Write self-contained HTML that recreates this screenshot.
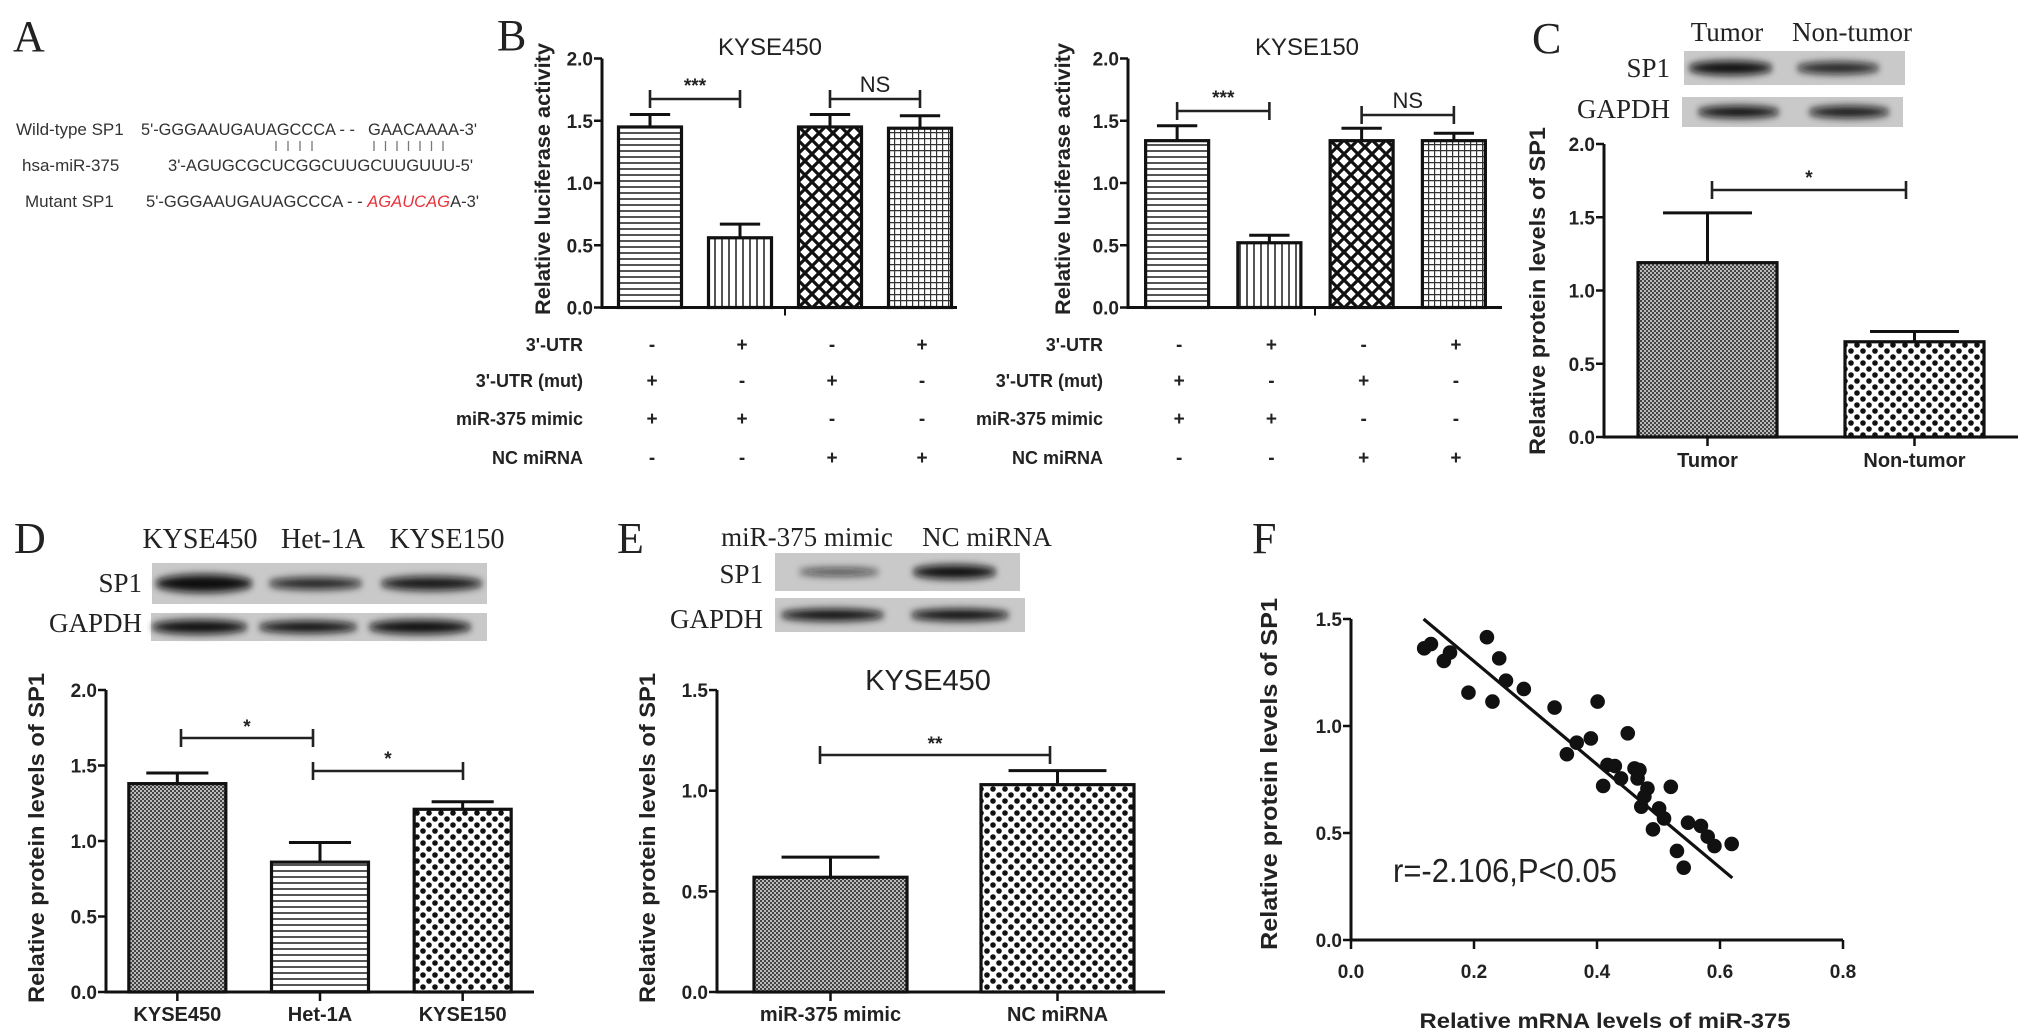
<!DOCTYPE html>
<html><head><meta charset="utf-8"><title>SP1 / miR-375 figure</title>
<style>
html,body{margin:0;padding:0;background:#fff;}
svg{display:block;}
.tk{font-family:"Liberation Sans",Arial,sans-serif;font-weight:bold;font-size:19px;fill:#222;}
.yt{font-family:"Liberation Sans",Arial,sans-serif;font-weight:bold;font-size:21px;fill:#222;}
.sv{font-family:"Liberation Serif","Times New Roman",serif;fill:#222;}
.sq{font-family:"Liberation Sans",Arial,sans-serif;font-size:17px;fill:#333;}
</style></head>
<body>
<svg id="fig" xmlns="http://www.w3.org/2000/svg" width="2031" height="1035" viewBox="0 0 2031 1035">
<defs>
  <pattern id="p-h" width="6" height="6" patternUnits="userSpaceOnUse"><rect width="6" height="6" fill="#fff"/><rect y="0" width="6" height="2" fill="#555"/></pattern>
  <pattern id="p-v" width="7" height="7" patternUnits="userSpaceOnUse"><rect width="7" height="7" fill="#fff"/><rect x="0" width="2" height="7" fill="#555"/></pattern>
  <pattern id="p-x" width="14" height="14" patternUnits="userSpaceOnUse"><rect width="14" height="14" fill="#fff"/><path d="M0 0L14 14M14 0L0 14M-7 7L0 14M7 -7L21 7M0 -0L-7 7M14 14L21 7" stroke="#111" stroke-width="3.2"/></pattern>
  <pattern id="p-g" width="6" height="6" patternUnits="userSpaceOnUse"><rect width="6" height="6" fill="#fff"/><path d="M0 0.5H6M0.5 0V6" stroke="#333" stroke-width="1.4"/></pattern>
  <pattern id="p-f" width="4" height="4" patternUnits="userSpaceOnUse"><rect width="4" height="4" fill="#bbb"/><rect width="2" height="2" fill="#444"/><rect x="2" y="2" width="2" height="2" fill="#444"/></pattern>
  <pattern id="p-d" width="12" height="12" patternUnits="userSpaceOnUse"><rect width="12" height="12" fill="#fff"/><circle cx="3" cy="3" r="2.8" fill="#111"/><circle cx="9" cy="9" r="2.8" fill="#111"/></pattern>
  <filter id="blur" x="-20%" y="-100%" width="140%" height="300%"><feGaussianBlur stdDeviation="3 4"/></filter>
</defs>
<g id="root"></g>
</svg>
<script>
// ---------- Panel B ----------
const bCats = ["g1","g2","g3","g4"];
const b450Values = [1.45, 0.56, 1.45, 1.44];
const b450Errors = [0.10, 0.11, 0.10, 0.10];
const b150Values = [1.34, 0.52, 1.34, 1.34];
const b150Errors = [0.12, 0.06, 0.10, 0.06];
const bTicks = [0, 0.5, 1.0, 1.5, 2.0];
const bTickLabels = ["0.0","0.5","1.0","1.5","2.0"];
const bRowLabels = ["3'-UTR","3'-UTR (mut)","miR-375 mimic","NC miRNA"];
const bRowSigns = [["-","+","-","+"],["+","-","+","-"],["+","+","-","-"],["-","-","+","+"]];
// ---------- Panel C ----------
const cCats = ["Tumor","Non-tumor"];
const cValues = [1.19, 0.65];
const cErrors = [0.34, 0.07];
const cTicks = [0, 0.5, 1.0, 1.5, 2.0];
const cTickLabels = ["0.0","0.5","1.0","1.5","2.0"];
// ---------- Panel D ----------
const dCats = ["KYSE450","Het-1A","KYSE150"];
const dValues = [1.38, 0.86, 1.21];
const dErrors = [0.07, 0.13, 0.05];
const dTicks = [0, 0.5, 1.0, 1.5, 2.0];
const dTickLabels = ["0.0","0.5","1.0","1.5","2.0"];
// ---------- Panel E ----------
const eCats = ["miR-375 mimic","NC miRNA"];
const eValues = [0.57, 1.03];
const eErrors = [0.10, 0.07];
const eTicks = [0, 0.5, 1.0, 1.5];
const eTickLabels = ["0.0","0.5","1.0","1.5"];
// ---------- Panel F ----------
const fX = [0.119,0.130,0.151,0.161,0.191,0.221,0.230,0.241,0.252,0.281,0.331,0.351,0.367,0.390,0.401,0.410,0.417,0.429,0.439,0.450,0.461,0.469,0.466,0.482,0.477,0.472,0.501,0.509,0.520,0.491,0.548,0.569,0.580,0.591,0.619,0.530,0.541];
const fY = [1.363,1.383,1.304,1.343,1.156,1.415,1.114,1.316,1.212,1.173,1.086,0.868,0.922,0.942,1.114,0.720,0.818,0.813,0.755,0.966,0.802,0.794,0.755,0.708,0.670,0.623,0.615,0.568,0.716,0.517,0.548,0.533,0.483,0.439,0.449,0.416,0.338];
const fFitX = [0.118, 0.620];
const fFitY = [1.50, 0.29];
const fXTicks = [0, 0.2, 0.4, 0.6, 0.8];
const fXTickLabels = ["0.0","0.2","0.4","0.6","0.8"];
const fYTicks = [0, 0.5, 1.0, 1.5];
const fYTickLabels = ["0.0","0.5","1.0","1.5"];

const NS = "http://www.w3.org/2000/svg";
const root = document.getElementById('root');
function mk(tag, attrs, parent, text){
  const e = document.createElementNS(NS, tag);
  for (const k in attrs) e.setAttribute(k, attrs[k]);
  if (text !== undefined) e.textContent = text;
  (parent || root).appendChild(e);
  return e;
}
function linY(y0, ppu){ return v => y0 - v*ppu; }
function band(n, r0, r1){ const step=(r1-r0)/n; return i => r0 + step*(i+0.5); }

function yAxis(g, ax, yTop, yZero, sy, ticks, labels){
  const l = mk('line',{x1:ax,y1:yTop,x2:ax,y2:yZero+1.5,stroke:'#111','stroke-width':3},g);
   
  ticks.forEach((t,i)=>{
    const y = sy(t);
    const tk = mk('line',{x1:ax-8,y1:y,x2:ax,y2:y,stroke:'#111','stroke-width':2.5},g);
     
    const tx = mk('text',{x:ax-9,y:y+7,'text-anchor':'end',class:'tk'},g,labels[i]);
     
  });
}
function bracket(g, x1, x2, y, label, ly){
  const p = mk('path',{d:`M${x1} ${y-9}V${y+9}M${x1} ${y}H${x2}M${x2} ${y-9}V${y+9}`,stroke:'#222','stroke-width':2.6,fill:'none'},g);
   
  const st = label==='NS' ? 'font-weight:normal;font-size:22px' : 'font-weight:bold;font-size:19px';
  const t = mk('text',{x:(x1+x2)/2,y:ly,'text-anchor':'middle',class:'tk',style:st},g,label);
   
}
function bars(g, n, cx, width, sy, yZero, values, errors, fills){
  for (let i=0;i<n;i++){
    const x = cx(i), top = sy(values[i]), et = sy(values[i]+errors[i]);
    const er = mk('path',{d:`M${x} ${top}V${et}M${x-width*0.32} ${et}H${x+width*0.32}`,stroke:'#111','stroke-width':3,fill:'none'},g);
     
    const r = mk('rect',{x:x-width/2,y:top,width:width,height:yZero-top,fill:`url(#${fills[i]})`,stroke:'#111','stroke-width':3.2},g);
     
  }
}
function vtext(g, x, y, txt, len, size){
  const t = mk('text',{x:0,y:0,transform:`translate(${x},${y}) rotate(-90)`,'text-anchor':'middle',class:'yt',style:`font-size:${size||21}px`,textLength:len,lengthAdjust:'spacingAndGlyphs'},g,txt);
   
  return t;
}
function blot(g, x0, y0, x1, y1, bandsArr, op){
  const r = mk('rect',{x:x0,y:y0,width:x1-x0,height:y1-y0,fill:'#c9c9c9'},g);
   
  bandsArr.forEach((b,i)=>{
    const e = mk('ellipse',{cx:(b[0]+b[1])/2,cy:(y0+y1)/2,rx:(b[1]-b[0])/2,ry:b[2],fill:'#111','fill-opacity':op[i],filter:'url(#blur)'},g);
     
  });
}
function serif(g, x, y, txt, size, anchor, name){
  const t = mk('text',{x:x,y:y,'text-anchor':anchor||'start',class:'sv',style:`font-size:${size}px`},g,txt);
   
  return t;
}

// ================= Panel A =================
const gA = mk('g',{});  
serif(gA, 13, 51, 'A', 44, 'start', 'panel-letter-a');
const sqRows = [[16,135,'Wild-type SP1'],[22,171,'hsa-miR-375'],[25,207,'Mutant SP1']];
sqRows.forEach(r=>{ const t=mk('text',{x:r[0],y:r[1],class:'sq'},gA,r[2]);   });
let t1 = mk('text',{x:141,y:135,class:'sq',textLength:214,lengthAdjust:'spacingAndGlyphs'},gA,"5'-GGGAAUGAUAGCCCA - -");
 
let t2 = mk('text',{x:368,y:135,class:'sq',textLength:109,lengthAdjust:'spacingAndGlyphs'},gA,"GAACAAAA-3'");
 
let t3 = mk('text',{x:168,y:171,class:'sq',textLength:305,lengthAdjust:'spacingAndGlyphs'},gA,"3'-AGUGCGCUCGGCUUGCUUGUUU-5'");
 
let t4 = mk('text',{x:146,y:207,class:'sq',textLength:333,lengthAdjust:'spacingAndGlyphs'},gA);
 
mk('tspan',{},t4,"5'-GGGAAUGAUAGCCCA - - ");
mk('tspan',{fill:'#e8323c','font-style':'italic'},t4,"AGAUCAG");
mk('tspan',{},t4,"A-3'");
for(let i=0;i<4;i++){ const l=mk('line',{x1:276+i*12,y1:141,x2:276+i*12,y2:151,stroke:'#777','stroke-width':1.3},gA);   }
for(let i=0;i<7;i++){ const l=mk('line',{x1:374+i*11.5,y1:141,x2:374+i*11.5,y2:151,stroke:'#777','stroke-width':1.3},gA);   }

// ================= Panel B =================
function panelB(name, ax, axEnd, rangeEnd, vals, errs, title, titleX, yTitleX, labelRight, midTick, br1y, br1ly, br2y, br2ly){
  const g = mk('g',{});  
  const yZero = 307.5, sy = linY(yZero, 124.5);
  const cx = band(4, ax+3, rangeEnd);
  const tt = mk('text',{x:titleX,y:55,'text-anchor':'middle',class:'yt',style:'font-weight:normal;font-size:24px'},g,title);
   
  vtext(g, yTitleX, 179, 'Relative luciferase activity', 272, 21);
  bars(g, 4, cx, 63, sy, yZero, vals, errs, ['p-h','p-v','p-x','p-g']);
  yAxis(g, ax, sy(2.0), yZero, sy, bTicks, bTickLabels);
  const xl = mk('line',{x1:ax,y1:yZero,x2:axEnd,y2:yZero,stroke:'#111','stroke-width':3},g);
   
  const mt = mk('line',{x1:midTick,y1:yZero,x2:midTick,y2:yZero+8,stroke:'#111','stroke-width':2},g);
   
  bracket(g, cx(0), cx(1), br1y, '***', br1ly);
  bracket(g, cx(2), cx(3), br2y, 'NS', br2ly);
  const rowY = [351, 387, 425, 464];
  bRowLabels.forEach((lab,r)=>{
    const t = mk('text',{x:labelRight,y:rowY[r],'text-anchor':'end',class:'tk',style:'font-size:18px'},g,lab);
     
    bRowSigns[r].forEach((s,i)=>{
      const st = mk('text',{x:cx(i)+2,y:rowY[r],'text-anchor':'middle',class:'tk'},g,s);
       
    });
  });
}
serif(root, 497, 50, 'B', 44, 'start', 'panel-letter-b');
panelB('panel-b-kyse450', 602, 957, 965, b450Values, b450Errors, 'KYSE450', 770, 550, 583, 785, 99, 92, 99, 92);
panelB('panel-b-kyse150', 1128, 1502, 1500, b150Values, b150Errors, 'KYSE150', 1307, 1070, 1103, 1315, 111, 104, 115, 108);

// ================= Panel C =================
(function(){
  const g = mk('g',{});  
  serif(g, 1532, 53, 'C', 44, 'start', 'panel-letter-c');
  serif(g, 1727, 41, 'Tumor', 27, 'middle', 'blot-lane-label');
  serif(g, 1852, 41, 'Non-tumor', 27, 'middle', 'blot-lane-label');
  serif(g, 1670, 77, 'SP1', 27, 'end', 'blot-row-label');
  serif(g, 1670, 118, 'GAPDH', 27, 'end', 'blot-row-label');
  blot(g, 1684, 51, 1905, 85, [[1688,1773,7],[1796,1880,6]], [1,0.9]);
  blot(g, 1682, 97, 1903, 127, [[1697,1780,6],[1808,1890,6]], [1,0.95]);
  const ax=1604, yZero=437, sy=linY(yZero,146.5), cx=band(2, ax, 2018);
  vtext(g, 1545, 291, 'Relative protein levels of SP1', 328, 22);
  bars(g, 2, cx, 139, sy, yZero, cValues, cErrors, ['p-f','p-d']);
  yAxis(g, ax, sy(2.0), yZero, sy, cTicks, cTickLabels);
  const xl=mk('line',{x1:ax,y1:yZero,x2:2018,y2:yZero,stroke:'#111','stroke-width':3},g);
   
  cCats.forEach((c,i)=>{
    const tk=mk('line',{x1:cx(i),y1:yZero,x2:cx(i),y2:yZero+9,stroke:'#111','stroke-width':2.5},g);
     
    const t=mk('text',{x:cx(i),y:467,'text-anchor':'middle',class:'tk',style:'font-size:20px'},g,c);
     
  });
  bracket(g, 1712, 1906, 190, '*', 184);
})();

// ================= Panel D =================
(function(){
  const g = mk('g',{});  
  serif(g, 14, 553, 'D', 44, 'start', 'panel-letter-d');
  serif(g, 200, 548, 'KYSE450', 28, 'middle', 'blot-lane-label');
  serif(g, 323, 548, 'Het-1A', 28, 'middle', 'blot-lane-label');
  serif(g, 447, 548, 'KYSE150', 28, 'middle', 'blot-lane-label');
  serif(g, 142, 592, 'SP1', 27, 'end', 'blot-row-label');
  serif(g, 142, 632, 'GAPDH', 27, 'end', 'blot-row-label');
  blot(g, 152, 563, 487, 604, [[155,253,9],[268,363,6],[380,483,7]], [1,0.9,0.95]);
  blot(g, 151, 613, 487, 641, [[151,248,7],[258,358,6],[368,472,7]], [1,1,1]);
  const ax=106, yZero=992, sy=linY(yZero,151), cx=band(3, ax, 534);
  vtext(g, 44, 838, 'Relative protein levels of SP1', 330, 22);
  bars(g, 3, cx, 97, sy, yZero, dValues, dErrors, ['p-f','p-h','p-d']);
  yAxis(g, ax, sy(2.0), yZero, sy, dTicks, dTickLabels);
  const xl=mk('line',{x1:ax,y1:yZero,x2:534,y2:yZero,stroke:'#111','stroke-width':3},g);
   
  dCats.forEach((c,i)=>{
    const tk=mk('line',{x1:cx(i),y1:yZero,x2:cx(i),y2:yZero+9,stroke:'#111','stroke-width':2.5},g);
     
    const t=mk('text',{x:cx(i),y:1021,'text-anchor':'middle',class:'tk',style:'font-size:20px'},g,c);
     
  });
  bracket(g, 181, 313, 738, '*', 733);
  bracket(g, 313, 463, 771, '*', 765);
})();

// ================= Panel E =================
(function(){
  const g = mk('g',{});  
  serif(g, 617, 553, 'E', 44, 'start', 'panel-letter-e');
  serif(g, 807, 546, 'miR-375 mimic', 27, 'middle', 'blot-lane-label');
  serif(g, 987, 546, 'NC miRNA', 27, 'middle', 'blot-lane-label');
  serif(g, 763, 583, 'SP1', 27, 'end', 'blot-row-label');
  serif(g, 763, 628, 'GAPDH', 27, 'end', 'blot-row-label');
  blot(g, 775, 553, 1020, 591, [[798,880,4],[912,997,7]], [0.7,1]);
  blot(g, 775, 598, 1025, 632, [[780,885,6],[910,1010,6]], [1,1]);
  const tt=mk('text',{x:928,y:690,'text-anchor':'middle',class:'yt',style:'font-weight:normal;font-size:29px'},g,'KYSE450');
   
  const ax=717, yZero=992, sy=linY(yZero,201.3), cx=band(2, ax, 1171);
  vtext(g, 655, 838, 'Relative protein levels of SP1', 330, 22);
  bars(g, 2, cx, 153, sy, yZero, eValues, eErrors, ['p-f','p-d']);
  yAxis(g, ax, sy(1.5), yZero, sy, eTicks, eTickLabels);
  const xl=mk('line',{x1:ax,y1:yZero,x2:1165,y2:yZero,stroke:'#111','stroke-width':3},g);
   
  eCats.forEach((c,i)=>{
    const tk=mk('line',{x1:cx(i),y1:yZero,x2:cx(i),y2:yZero+9,stroke:'#111','stroke-width':2.5},g);
     
    const t=mk('text',{x:cx(i),y:1021,'text-anchor':'middle',class:'tk',style:'font-size:20px'},g,c);
     
  });
  bracket(g, 820, 1050, 755, '**', 750);
})();

// ================= Panel F =================
(function(){
  const g = mk('g',{});  
  serif(g, 1252, 553, 'F', 44, 'start', 'panel-letter-f');
  const x0=1351, yZero=940, sx=v=>x0+v*615, sy=linY(yZero,214);
  vtext(g, 1277, 774, 'Relative protein levels of SP1', 352, 23);
  yAxis(g, x0, sy(1.5), yZero, sy, fYTicks, fYTickLabels);
  const xl=mk('line',{x1:x0-1.5,y1:yZero,x2:sx(0.8),y2:yZero,stroke:'#111','stroke-width':3},g);
   
  fXTicks.forEach((t,i)=>{
    const tk=mk('line',{x1:sx(t),y1:yZero,x2:sx(t),y2:yZero+9,stroke:'#111','stroke-width':2.5},g);
     
    const tx=mk('text',{x:sx(t),y:978,'text-anchor':'middle',class:'tk'},g,fXTickLabels[i]);
     
  });
  const xt=mk('text',{x:1605,y:1028,'text-anchor':'middle',class:'yt',textLength:371,lengthAdjust:'spacingAndGlyphs'},g,'Relative mRNA levels of miR-375');
   
  fX.forEach((v,i)=>{
    const c=mk('circle',{cx:sx(v),cy:sy(fY[i]),r:7.3,fill:'#111'},g);
     
  });
  const fl=mk('line',{x1:sx(fFitX[0]),y1:sy(fFitY[0]),x2:sx(fFitX[1]),y2:sy(fFitY[1]),stroke:'#111','stroke-width':3.2},g);
   
  const an=mk('text',{x:1393,y:882,class:'yt',style:'font-weight:normal;font-size:33px',textLength:224,lengthAdjust:'spacingAndGlyphs'},g,'r=-2.106,P<0.05');
   
})();
</script>
</body></html>
